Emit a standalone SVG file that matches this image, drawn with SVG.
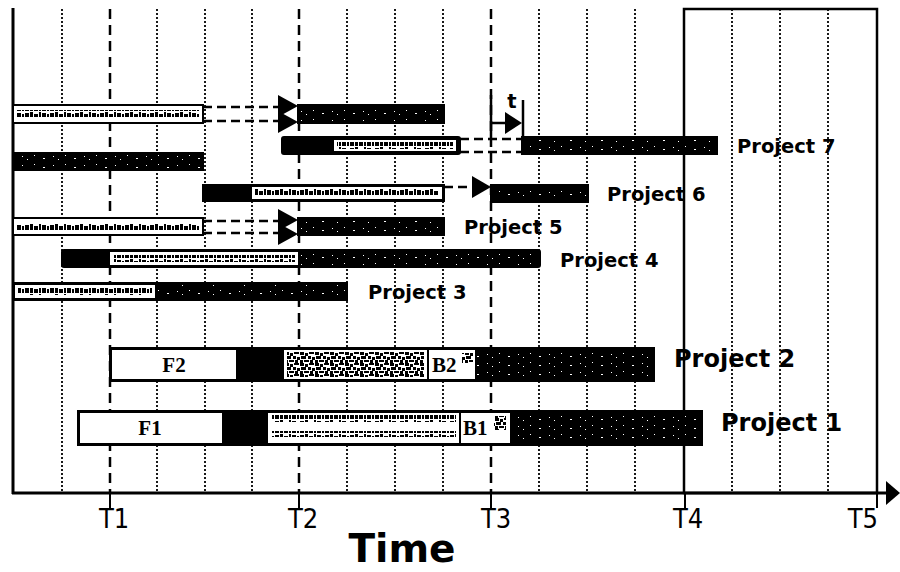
<svg xmlns="http://www.w3.org/2000/svg" width="900" height="572" viewBox="0 0 900 572">
  <style>
    .dot { stroke: #000; stroke-width: 1.8; stroke-dasharray: 2 2; fill: none; }
    .tline { stroke: #000; stroke-width: 2.5; stroke-dasharray: 10 6; fill: none; }
    .solid { stroke: #000; stroke-width: 3; fill: none; }
    .bar { fill: #000; stroke: #000; stroke-width: 2; }
    .lite { fill: #fff; stroke: #000; stroke-width: 2; }
    .wfill { fill: #fff; }
    .ink { fill: url(#ink); }
    .noise { fill: url(#noise); }
    .spk { fill: url(#spk); }
    .dash { stroke: #000; stroke-width: 2.5; stroke-dasharray: 9 5; fill: none; }
    .head { fill: #000; }
    .lbl { font-family: "DejaVu Sans", Verdana, sans-serif; font-weight: bold; font-size: 19.5px; fill: #000; }
    .lblbig { font-family: "DejaVu Sans", Verdana, sans-serif; font-weight: bold; font-size: 24px; fill: #000; }
    .tick { font-family: "DejaVu Sans Condensed", "DejaVu Sans", sans-serif; font-stretch: condensed; font-size: 27px; fill: #000; }
    .ser { font-family: "Liberation Serif", "Times New Roman", serif; font-weight: bold; font-size: 21px; fill: #000; }
  </style>
  <defs>
    <!-- garbled small print inside the light bar segments -->
    <pattern id="ink" width="25" height="7" patternUnits="userSpaceOnUse">
      <rect x="0" y="1" width="4" height="5"/>
      <rect x="5" y="0" width="3" height="6"/>
      <rect x="9" y="2" width="4" height="4"/>
      <rect x="14" y="0" width="2" height="6"/>
      <rect x="17" y="1" width="4" height="5"/>
      <rect x="22" y="2" width="2" height="4"/>
    </pattern>
    <!-- dense noisy print -->
    <pattern id="noise" width="15" height="11" patternUnits="userSpaceOnUse">
      <rect x="0" y="0" width="4" height="3"/>
      <rect x="5" y="1" width="3" height="3"/>
      <rect x="9" y="0" width="5" height="2"/>
      <rect x="1" y="4" width="5" height="3"/>
      <rect x="8" y="4" width="3" height="3"/>
      <rect x="12" y="5" width="3" height="3"/>
      <rect x="0" y="8" width="3" height="3"/>
      <rect x="4" y="8" width="5" height="2"/>
      <rect x="10" y="8" width="3" height="3"/>
    </pattern>
    <!-- sparse white specks on dark bars -->
    <pattern id="spk" width="31" height="9" patternUnits="userSpaceOnUse">
      <rect x="3" y="2" width="1" height="1" fill="#fff"/>
      <rect x="12" y="5" width="2" height="1" fill="#fff"/>
      <rect x="22" y="3" width="1" height="1" fill="#fff"/>
      <rect x="27" y="6" width="1" height="1" fill="#fff"/>
    </pattern>
  </defs>

  <!-- time grid -->
  <g id="grid">
    <line class="dot" x1="62" y1="9" x2="62" y2="493"/>
    <line class="dot" x1="157" y1="9" x2="157" y2="493"/>
    <line class="dot" x1="205" y1="9" x2="205" y2="493"/>
    <line class="dot" x1="252" y1="9" x2="252" y2="493"/>
    <line class="dot" x1="347" y1="9" x2="347" y2="493"/>
    <line class="dot" x1="395" y1="9" x2="395" y2="493"/>
    <line class="dot" x1="443" y1="9" x2="443" y2="493"/>
    <line class="dot" x1="539" y1="9" x2="539" y2="493"/>
    <line class="dot" x1="587" y1="9" x2="587" y2="493"/>
    <line class="dot" x1="635" y1="9" x2="635" y2="493"/>
    <line class="dot" x1="732" y1="9" x2="732" y2="493"/>
    <line class="dot" x1="780" y1="9" x2="780" y2="493"/>
    <line class="dot" x1="828" y1="9" x2="828" y2="493"/>
    <line class="tline" x1="110" y1="9" x2="110" y2="493"/>
    <line class="tline" x1="299" y1="9" x2="299" y2="493"/>
    <line class="tline" x1="491" y1="9" x2="491" y2="493"/>
    <rect x="684" y="9" width="193" height="484" fill="none" stroke="#000" stroke-width="2.5"/>
  </g>

  <!-- axes -->
  <g id="axes">
    <line class="solid" x1="13" y1="8" x2="13" y2="494"/>
    <line class="solid" x1="12" y1="493" x2="888" y2="493"/>
    <polygon class="head" points="886,481 900,493 886,505"/>
    <line stroke="#000" stroke-width="2" x1="110" y1="493" x2="110" y2="508"/>
    <line stroke="#000" stroke-width="2" x1="299" y1="493" x2="299" y2="508"/>
    <line stroke="#000" stroke-width="2" x1="491" y1="493" x2="491" y2="508"/>
    <line stroke="#000" stroke-width="2" x1="685" y1="493" x2="685" y2="508"/>
    <line stroke="#000" stroke-width="2" x1="877" y1="493" x2="877" y2="508"/>
    <text class="tick" x="99" y="528">T1</text>
    <text class="tick" x="288" y="528">T2</text>
    <text class="tick" x="481" y="528">T3</text>
    <text class="tick" x="673" y="528">T4</text>
    <text class="tick" x="878" y="528" text-anchor="end">T5</text>
    <text x="402" y="562" text-anchor="middle" font-family="DejaVu Sans, Verdana, sans-serif" font-weight="bold" font-size="39">Time</text>
  </g>

  <!-- row A -->
  <g id="rowA">
    <rect class="lite" x="13" y="105" width="190" height="18"/>
    <rect class="ink" x="17" y="110" width="182" height="7"/>
    <rect class="bar" x="298" y="105" width="146" height="18"/>
    <rect class="spk" x="300" y="107" width="142" height="14"/>
  </g>

  <!-- Project 7 -->
  <g id="project7">
    <rect class="bar" x="282" y="137" width="178" height="17" rx="2"/>
    <rect class="wfill" x="334" y="140" width="122" height="11"/>
    <rect class="ink" x="337" y="142" width="116" height="7"/>
    <rect class="bar" x="522" y="137" width="195" height="17"/>
    <rect class="spk" x="524" y="139" width="191" height="13"/>
    <text class="lbl" x="737" y="153">Project 7</text>
  </g>

  <!-- row C -->
  <g id="rowC">
    <rect class="bar" x="13" y="153" width="190" height="17"/>
    <rect class="spk" x="15" y="155" width="186" height="13"/>
  </g>

  <!-- Project 6 -->
  <g id="project6">
    <rect class="bar" x="203" y="185" width="241" height="16"/>
    <rect class="wfill" x="252" y="187" width="190" height="12"/>
    <rect class="ink" x="255" y="189" width="184" height="7"/>
    <rect class="bar" x="491" y="185" width="97" height="17"/>
    <rect class="spk" x="493" y="187" width="93" height="13"/>
    <text class="lbl" x="607" y="201">Project 6</text>
  </g>

  <!-- Project 5 -->
  <g id="project5">
    <rect class="lite" x="13" y="218" width="190" height="17"/>
    <rect class="ink" x="17" y="223" width="182" height="7"/>
    <rect class="bar" x="298" y="218" width="146" height="17"/>
    <rect class="spk" x="300" y="220" width="142" height="13"/>
    <text class="lbl" x="464" y="234">Project 5</text>
  </g>

  <!-- Project 4 -->
  <g id="project4">
    <rect class="bar" x="62" y="250" width="478" height="17" rx="2"/>
    <rect class="wfill" x="110" y="252" width="188" height="13"/>
    <rect class="ink" x="113" y="255" width="182" height="7"/>
    <rect class="spk" x="300" y="252" width="238" height="13"/>
    <text class="lbl" x="560" y="267">Project 4</text>
  </g>

  <!-- Project 3 -->
  <g id="project3">
    <rect class="bar" x="13" y="283" width="334" height="17"/>
    <rect class="wfill" x="15" y="285" width="140" height="13"/>
    <rect class="ink" x="18" y="288" width="134" height="7"/>
    <rect class="spk" x="157" y="285" width="188" height="13"/>
    <text class="lbl" x="368" y="299">Project 3</text>
  </g>

  <!-- Project 2 -->
  <g id="project2">
    <rect class="bar" x="110" y="348" width="544" height="33"/>
    <rect class="wfill" x="112" y="350" width="124" height="29"/>
    <rect class="wfill" x="284" y="350" width="143" height="29"/>
    <rect class="noise" x="287" y="352" width="137" height="25"/>
    <rect class="wfill" x="429" y="350" width="46" height="29"/>
    <rect class="noise" x="462" y="353" width="11" height="10"/>
    <rect class="spk" x="477" y="350" width="175" height="29"/>
    <text class="ser" x="174" y="372" text-anchor="middle">F2</text>
    <text class="ser" x="432" y="372">B2</text>
    <text class="lblbig" x="674" y="367">Project 2</text>
  </g>

  <!-- Project 1 -->
  <g id="project1">
    <rect class="bar" x="78" y="411" width="624" height="34"/>
    <rect class="wfill" x="80" y="413" width="142" height="30"/>
    <rect class="wfill" x="268" y="413" width="191" height="30"/>
    <rect class="ink" x="271" y="415" width="185" height="7"/>
    <rect class="ink" x="271" y="431" width="185" height="6"/>
    <rect class="wfill" x="461" y="413" width="49" height="30"/>
    <rect class="noise" x="494" y="416" width="12" height="14"/>
    <rect class="spk" x="512" y="413" width="188" height="30"/>
    <text class="ser" x="150" y="435" text-anchor="middle">F1</text>
    <text class="ser" x="463" y="435">B1</text>
    <text class="lblbig" x="721" y="431">Project 1</text>
  </g>

  <!-- dependency connectors -->
  <g id="connectors">
    <line class="dash" x1="203" y1="107" x2="280" y2="107"/>
    <line class="dash" x1="203" y1="121" x2="280" y2="121"/>
    <polygon class="head" points="278,95 298,106 278,117"/>
    <polygon class="head" points="278,111 298,122 278,133"/>

    <line class="dash" x1="460" y1="139" x2="523" y2="139"/>
    <line class="dash" x1="460" y1="152" x2="523" y2="152"/>

    <line class="dash" x1="444" y1="187" x2="473" y2="187"/>
    <polygon class="head" points="472,176 491,187 472,198"/>

    <line class="dash" x1="203" y1="221" x2="280" y2="221"/>
    <line class="dash" x1="203" y1="233" x2="280" y2="233"/>
    <polygon class="head" points="278,209 298,220 278,231"/>
    <polygon class="head" points="278,223 298,234 278,245"/>
  </g>

  <!-- delay marker t -->
  <g id="delay">
    <line stroke="#000" stroke-width="2.5" x1="491" y1="95" x2="491" y2="137"/>
    <line stroke="#000" stroke-width="2.5" x1="523" y1="100" x2="523" y2="137"/>
    <line stroke="#000" stroke-width="2.5" x1="491" y1="123" x2="507" y2="123"/>
    <polygon class="head" points="505,112 522,123 505,134"/>
    <text class="lbl" x="512" y="108" text-anchor="middle">t</text>
  </g>
</svg>
